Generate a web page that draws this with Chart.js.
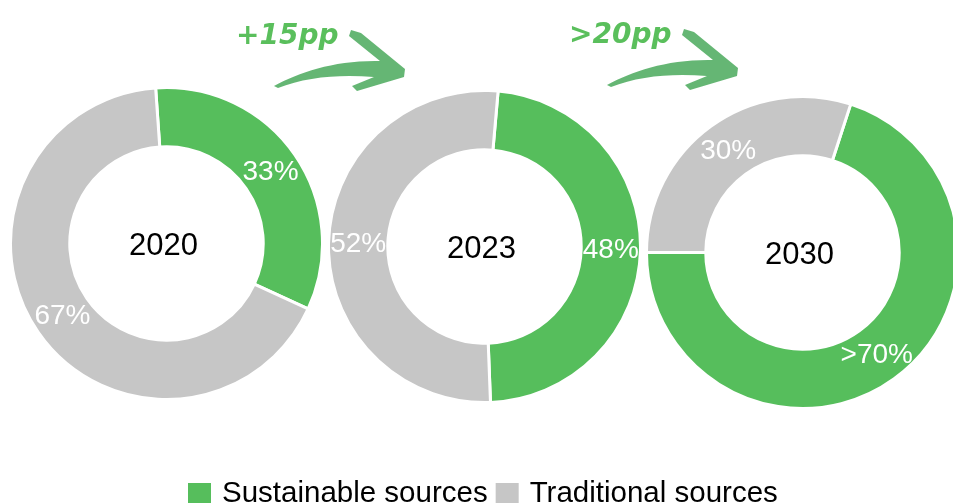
<!DOCTYPE html>
<html>
<head>
<meta charset="utf-8">
<script src="https://cdn.jsdelivr.net/npm/chart.js@4.4.1/dist/chart.umd.min.js"></script>
<style>
    html, body { margin: 0; padding: 0; background: #fff; overflow: hidden; }
    body { width: 953px; height: 503px; position: relative; font-family: Arial, "Liberation Sans", sans-serif; }
    .donut { position: absolute; width: 315px; height: 315px; }
    #overlay { position: absolute; left: 0; top: 0; pointer-events: none; }
</style>
</head>
<body>
<canvas id="donut0" class="donut" width="315" height="315" style="left:9px;top:86px"></canvas>
<canvas id="donut1" class="donut" width="315" height="315" style="left:327px;top:89px"></canvas>
<canvas id="donut2" class="donut" width="315" height="315" style="left:645px;top:95px"></canvas>
<svg id="overlay" width="953" height="503" xmlns="http://www.w3.org/2000/svg">
    <g id="arrows"></g>
    <g id="legend"></g>
</svg>
<script>
const years = ['2020', '2023', '2030'];
const seriesNames = ['Sustainable sources', 'Traditional sources'];
const sustainable = [33, 48, 70];
const traditional = [67, 52, 30];
const sustainableLabels = ['33%', '48%', '>70%'];
const traditionalLabels = ['67%', '52%', '30%'];
const changeLabels = ['+15pp', '>20pp'];

const colors = ['#56be5c', '#c6c6c6'];
const rotations = [-4, 5, 18];

const donutText = {
    id: 'donutText',
    afterDatasetsDraw(chart, args, opts) {
        const ctx = chart.ctx;
        const arcs = chart.getDatasetMeta(0).data;
        ctx.save();
        ctx.textAlign = 'center';
        ctx.textBaseline = 'middle';
        ctx.font = '28px Arial, "Liberation Sans"';
        ctx.fillStyle = '#fff';
        arcs.forEach((arc, i) => {
            const p = arc.tooltipPosition();
            ctx.fillText(opts.labels[i], p.x, p.y + 1);
        });
        ctx.font = '31px Arial, "Liberation Sans"';
        ctx.fillStyle = '#000';
        ctx.fillText(opts.year, arcs[0].x - 3, arcs[0].y + 3);
        ctx.restore();
    }
};

years.forEach((year, i) => {
    new Chart(document.getElementById('donut' + i), {
        type: 'doughnut',
        data: {
            labels: seriesNames,
            datasets: [{
                data: [sustainable[i], traditional[i]],
                backgroundColor: colors,
                borderColor: '#fff',
                borderWidth: 3,
                hoverOffset: 0
            }]
        },
        options: {
            responsive: false,
            animation: false,
            cutout: '62%',
            rotation: rotations[i],
            layout: { padding: 0 },
            events: [],
            plugins: {
                legend: { display: false },
                tooltip: { enabled: false },
                donutText: { year: year, labels: [sustainableLabels[i], traditionalLabels[i]] }
            }
        },
        plugins: [donutText]
    });
});

// brush style arrows with the change labels between the donuts
const NS = 'http://www.w3.org/2000/svg';
const arrowG = document.getElementById('arrows');
const arrowPath = 'M274 86 C300 72 335 60 380 61 L349 36 L351 30 L361 33 L405 69 L404 77 ' +
    'L357 91 L352 86 L374 77 C340 74 305 77 278 88 Z';
const arrowShift = [[0, 0], [333, -1]];

changeLabels.forEach((txt, i) => {
    const g = document.createElementNS(NS, 'g');
    g.setAttribute('transform', `translate(${arrowShift[i][0]},${arrowShift[i][1]})`);
    const p = document.createElementNS(NS, 'path');
    p.setAttribute('d', arrowPath);
    p.setAttribute('fill', '#4aa95c');
    p.setAttribute('fill-opacity', '0.85');
    g.appendChild(p);
    const t = document.createElementNS(NS, 'text');
    t.setAttribute('x', 236);
    t.setAttribute('y', 44);
    t.setAttribute('font-family', '"DejaVu Sans", sans-serif');
    t.setAttribute('font-weight', 'bold');
    t.setAttribute('font-style', 'italic');
    t.setAttribute('font-size', '28');
    t.setAttribute('fill', '#5abf5c');
    t.textContent = txt;
    g.appendChild(t);
    arrowG.appendChild(g);
});

// legend built from the series names
const legendG = document.getElementById('legend');
let lx = 188;
seriesNames.forEach((name, i) => {
    const r = document.createElementNS(NS, 'rect');
    r.setAttribute('x', lx);
    r.setAttribute('y', 483);
    r.setAttribute('width', 23);
    r.setAttribute('height', 23);
    r.setAttribute('fill', colors[i]);
    legendG.appendChild(r);
    const t = document.createElementNS(NS, 'text');
    t.setAttribute('x', lx + 34);
    t.setAttribute('y', 502);
    t.setAttribute('font-family', 'Arial, "Liberation Sans", sans-serif');
    t.setAttribute('font-size', '29.5');
    t.setAttribute('fill', '#000');
    t.textContent = name;
    legendG.appendChild(t);
    lx = lx + 34 + t.getComputedTextLength() + 8;
});
</script>
</body>
</html>
